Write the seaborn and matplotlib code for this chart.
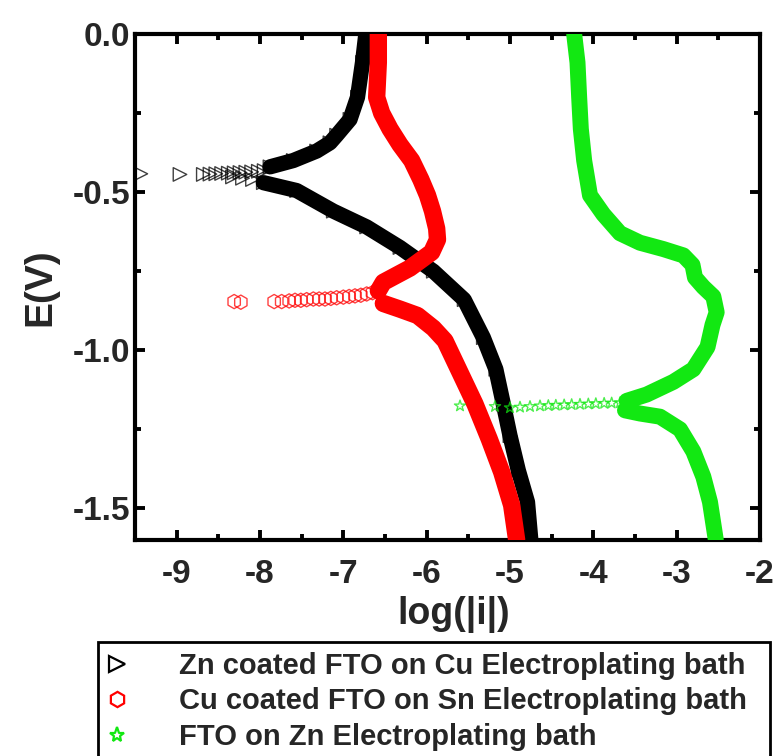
import matplotlib
matplotlib.use("Agg")
import matplotlib.pyplot as plt
from matplotlib.lines import Line2D
from matplotlib.ticker import MultipleLocator, FormatStrFormatter
import pandas as pd
import seaborn as sns

# ---- Zn coated FTO on Cu electroplating bath ----
zn_upper_E = [0.00, -0.09, -0.20, -0.27, -0.32, -0.344, -0.37, -0.40, -0.42]
zn_upper_logi = [-6.73, -6.77, -6.83, -6.92, -7.08, -7.16, -7.32, -7.60, -7.88]
zn_tail_E = [-0.432, -0.434, -0.436, -0.437, -0.438, -0.439, -0.440, -0.441, -0.442,
             -0.443, -0.444, -0.444, -0.442, -0.452, -0.456, -0.460]
zn_tail_logi = [-7.95, -8.02, -8.10, -8.17, -8.24, -8.31, -8.38, -8.46, -8.53,
                -8.60, -8.68, -8.96, -9.43, -8.33, -8.21, -8.09]
zn_lower_E = [-0.47, -0.495, -0.56, -0.61, -0.675, -0.75, -0.84, -0.96, -1.06,
              -1.17, -1.27, -1.38, -1.48, -1.60]
zn_lower_logi = [-7.96, -7.56, -7.12, -6.72, -6.32, -5.92, -5.55, -5.32, -5.17,
                 -5.08, -5.00, -4.90, -4.79, -4.75]

# ---- Cu coated FTO on Sn electroplating bath ----
cu_upper_E = [0.00, -0.09, -0.20, -0.25, -0.30, -0.35, -0.40, -0.46, -0.51,
              -0.56, -0.615, -0.65, -0.69, -0.74, -0.785, -0.812]
cu_upper_logi = [-6.58, -6.58, -6.60, -6.54, -6.44, -6.32, -6.18, -6.07, -5.99,
                 -5.93, -5.88, -5.87, -5.94, -6.20, -6.52, -6.58]
cu_tail_E = [-0.818, -0.822, -0.826, -0.828, -0.830, -0.832, -0.834, -0.836,
             -0.838, -0.838, -0.838, -0.840, -0.842, -0.842, -0.844, -0.846,
             -0.846, -0.848]
cu_tail_logi = [-6.65, -6.72, -6.79, -6.86, -6.93, -7.00, -7.08, -7.15,
                -7.22, -7.29, -7.36, -7.44, -7.51, -7.58, -7.65, -7.74,
                -7.83, -8.23]
cu_tail_logi += [-8.31]
cu_tail_E += [-0.846]
cu_lower_E = [-0.852, -0.87, -0.89, -0.93, -0.97, -1.07, -1.17, -1.28, -1.385,
              -1.49, -1.60]
cu_lower_logi = [-6.52, -6.32, -6.11, -5.92, -5.78, -5.60, -5.42, -5.25, -5.10,
                 -4.98, -4.92]

# ---- FTO on Zn electroplating bath ----
fto_upper_E = [0.00, -0.09, -0.20, -0.30, -0.40, -0.51, -0.57, -0.63, -0.66,
               -0.68, -0.70, -0.73, -0.77, -0.80, -0.83, -0.88, -0.92, -0.99,
               -1.06, -1.10, -1.14, -1.16]
fto_upper_logi = [-4.23, -4.19, -4.17, -4.15, -4.11, -4.04, -3.88, -3.68, -3.44,
                  -3.16, -2.92, -2.81, -2.78, -2.68, -2.56, -2.52, -2.57, -2.63,
                  -2.80, -3.04, -3.36, -3.60]
fto_tail_E = [-1.166, -1.167, -1.168, -1.169, -1.170, -1.171, -1.172, -1.173,
              -1.174, -1.175, -1.176, -1.178, -1.180, -1.182, -1.178, -1.176]
fto_tail_logi = [-3.68, -3.78, -3.87, -3.97, -4.06, -4.16, -4.26, -4.35,
                 -4.45, -4.54, -4.64, -4.76, -4.88, -5.00, -5.18, -5.60]
fto_lower_E = [-1.19, -1.20, -1.21, -1.25, -1.32, -1.40, -1.48, -1.60]
fto_lower_logi = [-3.62, -3.44, -3.20, -2.96, -2.80, -2.68, -2.60, -2.53]

labels = ["Zn coated FTO on Cu Electroplating bath",
          "Cu coated FTO on Sn Electroplating bath",
          "FTO on Zn Electroplating bath"]
colors = ["#000000", "#ff0000", "#12e812"]
markers = [">", "h", "*"]

x_ticks = [-9, -8, -7, -6, -5, -4, -3, -2]
y_ticks = [0.0, -0.5, -1.0, -1.5]

sns.set_style("ticks")
plt.rcParams["font.family"] = ["Liberation Sans", "DejaVu Sans"]
plt.rcParams["font.weight"] = "bold"
plt.rcParams["axes.unicode_minus"] = False

fig = plt.figure(figsize=(7.79, 7.56), dpi=100)
ax = fig.add_axes([0.1733, 0.2857, 0.8023, 0.6693])

curves = [
    (zn_upper_E, zn_upper_logi, zn_tail_E, zn_tail_logi, zn_lower_E, zn_lower_logi),
    (cu_upper_E, cu_upper_logi, cu_tail_E, cu_tail_logi, cu_lower_E, cu_lower_logi),
    (fto_upper_E, fto_upper_logi, fto_tail_E, fto_tail_logi, fto_lower_E, fto_lower_logi),
]
band_widths = [11.0, 12.5, 11.5]
marker_sizes = [95, 105, 70]

for i, (uE, ul, tE, tl, lE, ll) in enumerate(curves):
    for bE, bl in ((uE, ul), (lE, ll)):
        df = pd.DataFrame({"logi": bl, "E": bE})
        sns.lineplot(data=df, x="logi", y="E", sort=False, estimator=None,
                     color=colors[i], lw=band_widths[i], ax=ax, legend=False,
                     solid_capstyle="round", solid_joinstyle="round", zorder=2 + i)
    pts = pd.DataFrame({"logi": ul + tl + ll, "E": uE + tE + lE})
    sns.scatterplot(data=pts, x="logi", y="E", marker=markers[i], s=marker_sizes[i],
                    ax=ax, legend=False, zorder=2 + i)
    coll = ax.collections[-1]
    coll.set_facecolor("none")
    coll.set_edgecolor(colors[i])
    coll.set_linewidth(1.0)
    coll.set_alpha(0.75)

ax.set_xlim(-9.5, -2)
ax.set_ylim(-1.6, 0.0)
ax.set_xticks(x_ticks)
ax.set_yticks(y_ticks)
ax.xaxis.set_minor_locator(MultipleLocator(0.5))
ax.yaxis.set_minor_locator(MultipleLocator(0.25))
ax.yaxis.set_major_formatter(FormatStrFormatter("%.1f"))
ax.xaxis.set_major_formatter(FormatStrFormatter("%d"))

ax.tick_params(which="both", direction="in", top=True, right=True,
               width=2.8, labelsize=24, color="black")
ax.tick_params(which="major", length=7)
ax.tick_params(which="minor", length=4)
ax.tick_params(axis="x", which="major", pad=13.5)
ax.tick_params(axis="y", which="major", pad=3.5)
for lab in ax.get_xticklabels() + ax.get_yticklabels():
    lab.set_fontweight("bold")
for sp in ax.spines.values():
    sp.set_linewidth(3.0)
    sp.set_color("black")

ax.set_xlabel("log(|i|)", fontsize=27, fontweight="bold")
ax.set_ylabel("E(V)", fontsize=28, fontweight="bold")
ax.xaxis.set_label_coords(0.51, -0.111)
ax.yaxis.set_label_coords(-0.123, 0.5)

handles = [Line2D([], [], linestyle="none", marker=m, markersize=11,
                  markerfacecolor="none", markeredgecolor=c, markeredgewidth=1.6)
           for m, c in zip(markers, colors)]
leg = fig.legend(handles, labels, loc="upper left",
                 bbox_to_anchor=(0.126, 0.0, 0.862, 0.151),
                 bbox_transform=fig.transFigure, mode="expand",
                 prop={"size": 21, "weight": "bold"}, frameon=True,
                 fancybox=False, borderpad=0.34, handlelength=0.63,
                 handletextpad=1.8, labelspacing=0.26, borderaxespad=0.0)
leg.get_frame().set_edgecolor("black")
leg.get_frame().set_linewidth(2.0)
leg.get_frame().set_alpha(1.0)

fig.savefig("out.png", dpi=100)
